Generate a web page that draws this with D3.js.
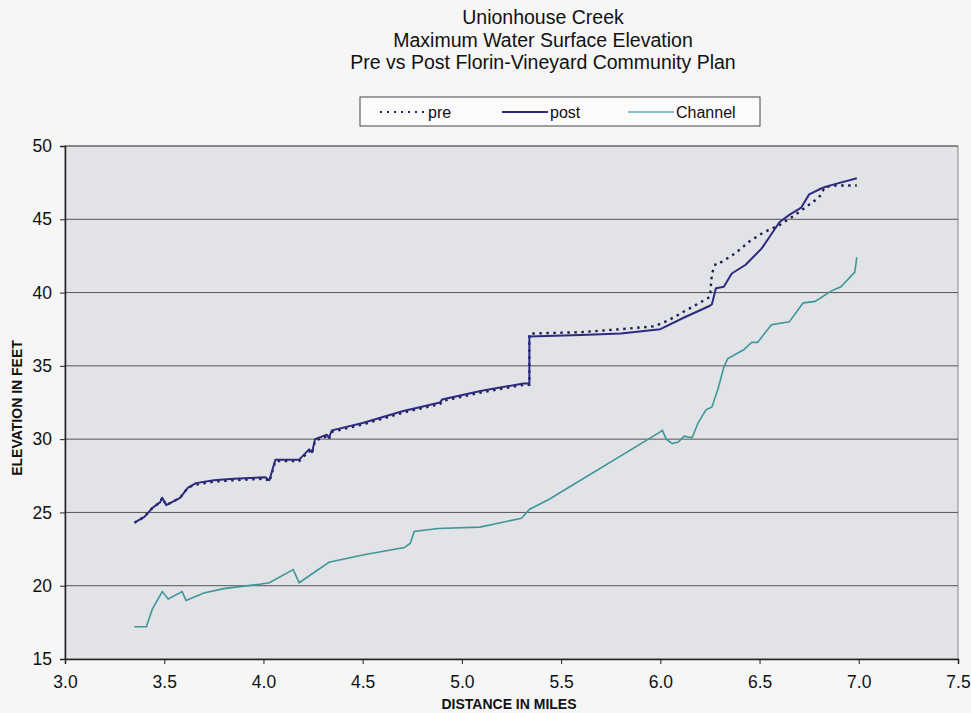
<!DOCTYPE html>
<html>
<head>
<meta charset="utf-8">
<script src="https://cdn.jsdelivr.net/npm/d3@7"></script>
<style>
  body { margin: 0; background: #f6f6f6; }
  svg { display: block; font-family: "Liberation Sans", Arial, sans-serif; }
  .axis path, .axis line { stroke: #222; }
  .axis text { font-size: 17.5px; fill: #111; }
</style>
</head>
<body>
<script>
// data (miles, feet)
var titleLines = ["Unionhouse Creek", "Maximum Water Surface Elevation", "Pre vs Post Florin-Vineyard Community Plan"];
var xTicks = [3.0, 3.5, 4.0, 4.5, 5.0, 5.5, 6.0, 6.5, 7.0, 7.5];
var yTicks = [15, 20, 25, 30, 35, 40, 45, 50];

var postX = [3.35,3.40,3.44,3.48,3.49,3.51,3.58,3.62,3.66,3.75,3.85,4.01,4.03,4.06,4.18,4.23,4.245,4.26,4.32,4.33,4.345,4.50,4.70,4.89,4.90,5.10,5.31,5.34,5.34,5.60,5.80,6.00,6.12,6.25,6.26,6.28,6.32,6.36,6.43,6.51,6.60,6.65,6.71,6.75,6.81,6.83,6.88,6.99];
var postY = [24.3,24.7,25.3,25.7,26.0,25.5,26.0,26.7,27.0,27.2,27.3,27.4,27.2,28.6,28.6,29.3,29.1,30.0,30.3,30.1,30.6,31.1,31.9,32.5,32.7,33.3,33.8,33.8,37.0,37.1,37.2,37.5,38.3,39.1,39.2,40.3,40.4,41.3,41.9,43.0,44.8,45.3,45.8,46.7,47.1,47.2,47.4,47.8];

var preX = [3.35,3.40,3.44,3.48,3.49,3.51,3.58,3.62,3.66,3.75,3.85,4.01,4.03,4.06,4.18,4.23,4.245,4.26,4.32,4.33,4.345,4.50,4.70,4.89,4.90,5.10,5.31,5.34,5.34,5.60,5.80,5.97,6.04,6.25,6.26,6.28,6.31,6.38,6.45,6.52,6.60,6.68,6.75,6.80,6.83,6.88,6.99];
var preY = [24.3,24.7,25.3,25.7,26.0,25.5,26.0,26.7,26.9,27.1,27.2,27.3,27.1,28.5,28.5,29.2,29.0,29.9,30.2,30.0,30.5,31.0,31.8,32.4,32.6,33.2,33.7,33.7,37.2,37.3,37.5,37.7,38.1,39.7,41.3,42.0,42.1,42.7,43.5,44.1,44.6,45.3,46.0,46.5,47.2,47.3,47.3];

var channelX = [3.35,3.41,3.44,3.49,3.52,3.59,3.61,3.70,3.80,3.98,4.03,4.15,4.18,4.33,4.50,4.71,4.74,4.76,4.88,5.09,5.30,5.34,5.44,6.00,6.01,6.03,6.06,6.09,6.12,6.16,6.19,6.23,6.26,6.29,6.32,6.34,6.42,6.46,6.49,6.56,6.65,6.72,6.78,6.86,6.91,6.98,6.99];
var channelY = [17.2,17.2,18.4,19.6,19.1,19.6,19.0,19.5,19.8,20.1,20.2,21.1,20.2,21.6,22.1,22.6,22.9,23.7,23.9,24.0,24.6,25.2,25.9,30.5,30.6,30.0,29.7,29.8,30.2,30.1,31.1,32.0,32.2,33.4,34.9,35.5,36.1,36.6,36.6,37.8,38.0,39.3,39.4,40.1,40.4,41.4,42.4];

var width = 971, height = 713;
var margin = {left:65, right:13, top:146, bottom:54};
var plotW = width - margin.left - margin.right;
var plotH = height - margin.top - margin.bottom;

var x = d3.scaleLinear().domain([3.0, 7.5]).range([0, plotW]);
var y = d3.scaleLinear().domain([15, 50]).range([plotH, 0]);

var svg = d3.select("body").append("svg").attr("width", width).attr("height", height);

// title
svg.append("g").selectAll("text")
    .data(titleLines).enter().append("text")
    .attr("x", 543)
    .attr("y", function(d, i){ return 24 + i * 22.5; })
    .attr("text-anchor", "middle")
    .style("font-size", "19.5px")
    .style("fill", "#111")
    .text(function(d){ return d; });

// legend
var legend = svg.append("g").attr("transform", "translate(360,97)");
legend.append("rect").attr("width", 400).attr("height", 29)
    .attr("fill", "#fbfbfb").attr("stroke", "#444").attr("stroke-width", 1);
var legendItems = [
  {name:"pre", color:"#23235a", dash:"2,5", w:2, x0:20},
  {name:"post", color:"#2a2a86", dash:null, w:2, x0:142},
  {name:"Channel", color:"#5aaeb3", dash:null, w:1.5, x0:268}
];
legendItems.forEach(function(d){
  legend.append("line").attr("x1", d.x0).attr("x2", d.x0 + 46).attr("y1", 15).attr("y2", 15)
      .attr("stroke", d.color).attr("stroke-width", d.w).attr("stroke-dasharray", d.dash);
  legend.append("text").attr("x", d.x0 + 48).attr("y", 21)
      .style("font-size", "16px").style("fill", "#111").text(d.name);
});

var chartGroup = svg.append("g").attr("transform", "translate(" + margin.left + "," + margin.top + ")");

chartGroup.append("rect").attr("width", plotW).attr("height", plotH)
    .attr("fill", "#e2e3e6").attr("stroke", "#888").attr("stroke-width", 1);

// gridlines
chartGroup.append("g").selectAll("line")
    .data(yTicks.slice(1)).enter().append("line")
    .attr("x1", 0).attr("x2", plotW)
    .attr("y1", function(d){ return y(d); }).attr("y2", function(d){ return y(d); })
    .attr("stroke", "#555").attr("stroke-width", 1);

var line = d3.line()
    .x(function(d){ return x(d[0]); })
    .y(function(d){ return y(d[1]); });

function pairs(xs, ys){ return xs.map(function(v, i){ return [v, ys[i]]; }); }

chartGroup.append("path").attr("d", line(pairs(channelX, channelY)))
    .attr("fill", "none").attr("stroke", "#3f969a").attr("stroke-width", 1.6);
chartGroup.append("path").attr("d", line(pairs(preX, preY)))
    .attr("fill", "none").attr("stroke", "#1e1e50").attr("stroke-width", 2.4)
    .attr("stroke-dasharray", "2.5,4.5");
chartGroup.append("path").attr("d", line(pairs(postX, postY)))
    .attr("fill", "none").attr("stroke", "#2b2b80").attr("stroke-width", 2)
    .attr("stroke-linejoin", "round");

// axes
var xAxis = d3.axisBottom(x).tickValues(xTicks).tickFormat(d3.format(".1f")).tickSize(5).tickPadding(12);
var yAxis = d3.axisLeft(y).tickValues(yTicks).tickSize(5).tickPadding(8);

chartGroup.append("g").attr("class", "axis x")
    .attr("transform", "translate(0," + plotH + ")")
    .call(xAxis);
chartGroup.append("g").attr("class", "axis y")
    .call(yAxis);
chartGroup.selectAll(".axis .domain").attr("stroke-width", 1.5);

// axis titles
svg.append("text").attr("x", 509).attr("y", 709)
    .attr("text-anchor", "middle")
    .style("font-size", "14px").style("font-weight", "bold").style("fill", "#111")
    .text("DISTANCE IN MILES");
svg.append("text")
    .attr("transform", "translate(22,408) rotate(-90)")
    .attr("text-anchor", "middle")
    .style("font-size", "14px").style("font-weight", "bold").style("fill", "#111")
    .text("ELEVATION IN FEET");
</script>
</body>
</html>
